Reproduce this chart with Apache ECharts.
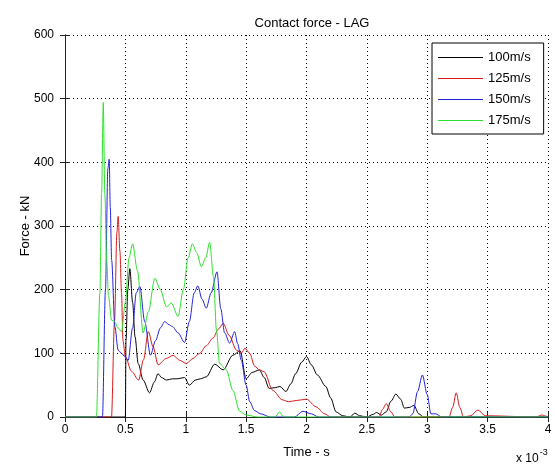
<!DOCTYPE html>
<html>
<head>
<meta charset="utf-8">
<script src="https://cdn.jsdelivr.net/npm/echarts@6/dist/echarts.min.js"></script>
</head>
<body style="margin: 0; background: #fff">
<div id="container" style="width: 555px; height: 464px"></div>
<script>
  // time in units of 1e-3 s, force in kN
  const t100 = [0, 0.50, 0.505, 0.52, 0.537, 0.56, 0.58, 0.606, 0.647, 0.70, 0.74, 0.77, 0.80, 0.84, 0.89, 0.93, 0.99, 1.03, 1.08, 1.12, 1.17, 1.24, 1.31, 1.39, 1.45, 1.50, 1.55, 1.61, 1.65, 1.69, 1.74, 1.78, 1.83, 1.87, 1.91, 1.96, 2.0, 2.04, 2.09, 2.16, 2.2, 2.245, 2.3, 2.36, 2.40, 2.44, 2.5, 2.55, 2.58, 2.62, 2.66, 2.70, 2.74, 2.78, 2.81, 2.85, 2.89, 2.93, 2.97, 4.0];
  const f100 = [0, 0, 120, 200, 233, 180, 126, 84, 58, 38, 55, 68, 62, 58, 60, 60, 62, 50, 58, 60, 63, 83, 74, 97, 104, 60, 70, 74, 62, 45, 46, 48, 40, 52, 68, 86, 95, 82, 66, 48, 30, 8, 2, 0, 6, 2, 0, 4, 7, 3, 8, 25, 36, 28, 14, 15, 18, 5, 0, 0];

  const t125 = [0, 0.385, 0.41, 0.43, 0.44, 0.455, 0.468, 0.48, 0.50, 0.55, 0.61, 0.65, 0.69, 0.73, 0.771, 0.84, 0.895, 0.95, 1.005, 1.06, 1.116, 1.17, 1.226, 1.27, 1.31, 1.36, 1.42, 1.46, 1.49, 1.53, 1.57, 1.61, 1.65, 1.72, 1.80, 1.85, 1.92, 2.0, 2.08, 2.15, 2.2, 2.6, 2.63, 2.66, 2.70, 2.73, 3.18, 3.21, 3.24, 3.27, 3.30, 3.36, 3.42, 3.48, 3.9, 3.95, 4.0];
  const f125 = [0, 0, 150, 290, 315, 260, 195, 120, 95, 72, 58, 90, 134, 110, 82, 92, 97, 89, 84, 92, 100, 112, 124, 138, 147, 128, 105, 100, 108, 100, 80, 74, 71, 42, 27, 24, 26, 28, 16, 5, 0, 0, 12, 21, 8, 0, 0, 15, 38, 15, 0, 2, 11, 2, 0, 3, 0];

  const t150 = [0, 0.31, 0.335, 0.355, 0.366, 0.375, 0.386, 0.413, 0.44, 0.468, 0.495, 0.523, 0.56, 0.59, 0.62, 0.66, 0.708, 0.75, 0.79, 0.826, 0.86, 0.89, 0.937, 0.99, 1.03, 1.07, 1.10, 1.135, 1.17, 1.21, 1.259, 1.29, 1.322, 1.364, 1.405, 1.43, 1.46, 1.50, 1.53, 1.57, 1.62, 1.7, 1.9, 1.97, 2.04, 2.1, 2.85, 2.88, 2.92, 2.96, 3.0, 3.03, 3.07, 3.12, 4.0];
  const f150 = [0, 0, 200, 390, 405, 330, 247, 142, 105, 100, 95, 89, 140, 195, 205, 150, 97, 120, 140, 150, 145, 142, 132, 117, 150, 195, 206, 185, 171, 195, 228, 170, 132, 116, 134, 115, 89, 50, 24, 10, 5, 0, 0, 9, 5, 0, 0, 5, 40, 66, 35, 5, 5, 0, 0];

  const t175 = [0, 0.26, 0.289, 0.303, 0.317, 0.33, 0.345, 0.36, 0.386, 0.41, 0.44, 0.468, 0.50, 0.53, 0.56, 0.60, 0.647, 0.69, 0.744, 0.79, 0.84, 0.88, 0.937, 0.98, 1.02, 1.055, 1.09, 1.13, 1.165, 1.198, 1.23, 1.254, 1.28, 1.336, 1.39, 1.446, 1.5, 1.6, 1.74, 1.777, 1.81, 1.9, 4.0];
  const f175 = [0, 0, 195, 351, 494, 350, 247, 190, 152, 150, 140, 134, 180, 250, 272, 230, 132, 165, 218, 200, 173, 179, 158, 200, 250, 272, 258, 236, 250, 274, 220, 137, 84, 74, 42, 9, 3, 0, 0, 8, 0, 0, 0];

  const names = ['100m/s', '125m/s', '150m/s', '175m/s'];
  const colors = ['#000000', '#d81c1c', '#2222dd', '#2ee02e'];
  const xTicks = [0, 4, 0.5];   // min, max, step
  const yTicks = [0, 600, 100];

  const pairs = (t, f) => t.map((v, i) => [v, f[i]]);
  const seriesData = [pairs(t100, f100), pairs(t125, f125), pairs(t150, f150), pairs(t175, f175)];

  const chart = echarts.init(document.getElementById('container'), null, {renderer: 'canvas'});
  const font = 'Liberation Sans, Arial, sans-serif';

  const option = {
    backgroundColor: '#fff',
    animation: false,
    title: {
      text: 'Contact force - LAG',
      left: 307,
      textAlign: 'center',
      top: 12,
      textStyle: {fontFamily: font, fontSize: 13, fontWeight: 'normal', color: '#000'}
    },
    legend: {
      orient: 'vertical',
      left: 432,
      top: 43,
      padding: [7, 13, 6, 6],
      icon: 'rect',
      itemWidth: 45,
      itemHeight: 1,
      itemGap: 6,
      borderColor: '#000',
      borderWidth: 1,
      backgroundColor: '#fff',
      data: names.map((n, i) => ({name: n, itemStyle: {color: colors[i]}})),
      textStyle: {fontFamily: font, fontSize: 13, color: '#000', lineHeight: 15}
    },
    grid: {left: 65, right: 7, top: 35, bottom: 46},
    xAxis: [
      {
        type: 'value',
        min: xTicks[0], max: xTicks[1], interval: xTicks[2],
        name: 'Time - s',
        nameLocation: 'middle',
        nameGap: 29,
        nameMoveOverlap: false,
        nameTextStyle: {fontFamily: font, fontSize: 13, color: '#000'},
        axisLine: {lineStyle: {color: '#222'}},
        axisTick: {inside: true, length: 5, lineStyle: {color: '#222'}},
        axisLabel: {fontFamily: font, fontSize: 12, color: '#000', margin: 7},
        splitLine: {show: true, lineStyle: {color: '#000', type: [1, 3]}}
      },
      {
        type: 'value', position: 'top',
        min: xTicks[0], max: xTicks[1], interval: xTicks[2],
        axisLine: {show: true, lineStyle: {color: '#222'}},
        axisTick: {inside: true, length: 5, lineStyle: {color: '#222'}},
        axisLabel: {show: false},
        splitLine: {show: false}
      }
    ],
    yAxis: [
      {
        type: 'value',
        min: yTicks[0], max: yTicks[1], interval: yTicks[2],
        name: 'Force - kN',
        nameLocation: 'middle',
        nameGap: 33,
        nameMoveOverlap: false,
        nameTextStyle: {fontFamily: font, fontSize: 13, color: '#000'},
        axisLine: {show: true, lineStyle: {color: '#222'}},
        axisTick: {show: true, inside: true, length: 5, lineStyle: {color: '#222'}},
        axisLabel: {fontFamily: font, fontSize: 12, color: '#000', margin: 11},
        splitLine: {show: true, lineStyle: {color: '#000', type: [1, 3]}}
      },
      {
        type: 'value', position: 'right',
        min: yTicks[0], max: yTicks[1], interval: yTicks[2],
        axisLine: {show: true, lineStyle: {color: '#222'}},
        axisTick: {show: true, inside: true, length: 5, lineStyle: {color: '#222'}},
        axisLabel: {show: false},
        splitLine: {show: false}
      }
    ],
    graphic: [
      {
        type: 'text',
        left: 516,
        top: 448,
        style: {
          text: '{a|x 10}{b|-3}',
          rich: {
            a: {fontFamily: font, fontSize: 12, fill: '#000', padding: [6, 0, 0, 0]},
            b: {fontFamily: font, fontSize: 9, fill: '#000', padding: [0, 0, 6, 1]}
          }
        }
      }
    ],
    series: seriesData.map((d, i) => ({
      name: names[i],
      type: 'line',
      data: d,
      symbol: 'none',
      smooth: 0.3,
      smoothMonotone: 'x',
      clip: true,
      color: colors[i],
      lineStyle: {width: 1, color: colors[i]}
    }))
  };

  chart.setOption(option);
  window.addEventListener('resize', chart.resize);
</script>
</body>
</html>
